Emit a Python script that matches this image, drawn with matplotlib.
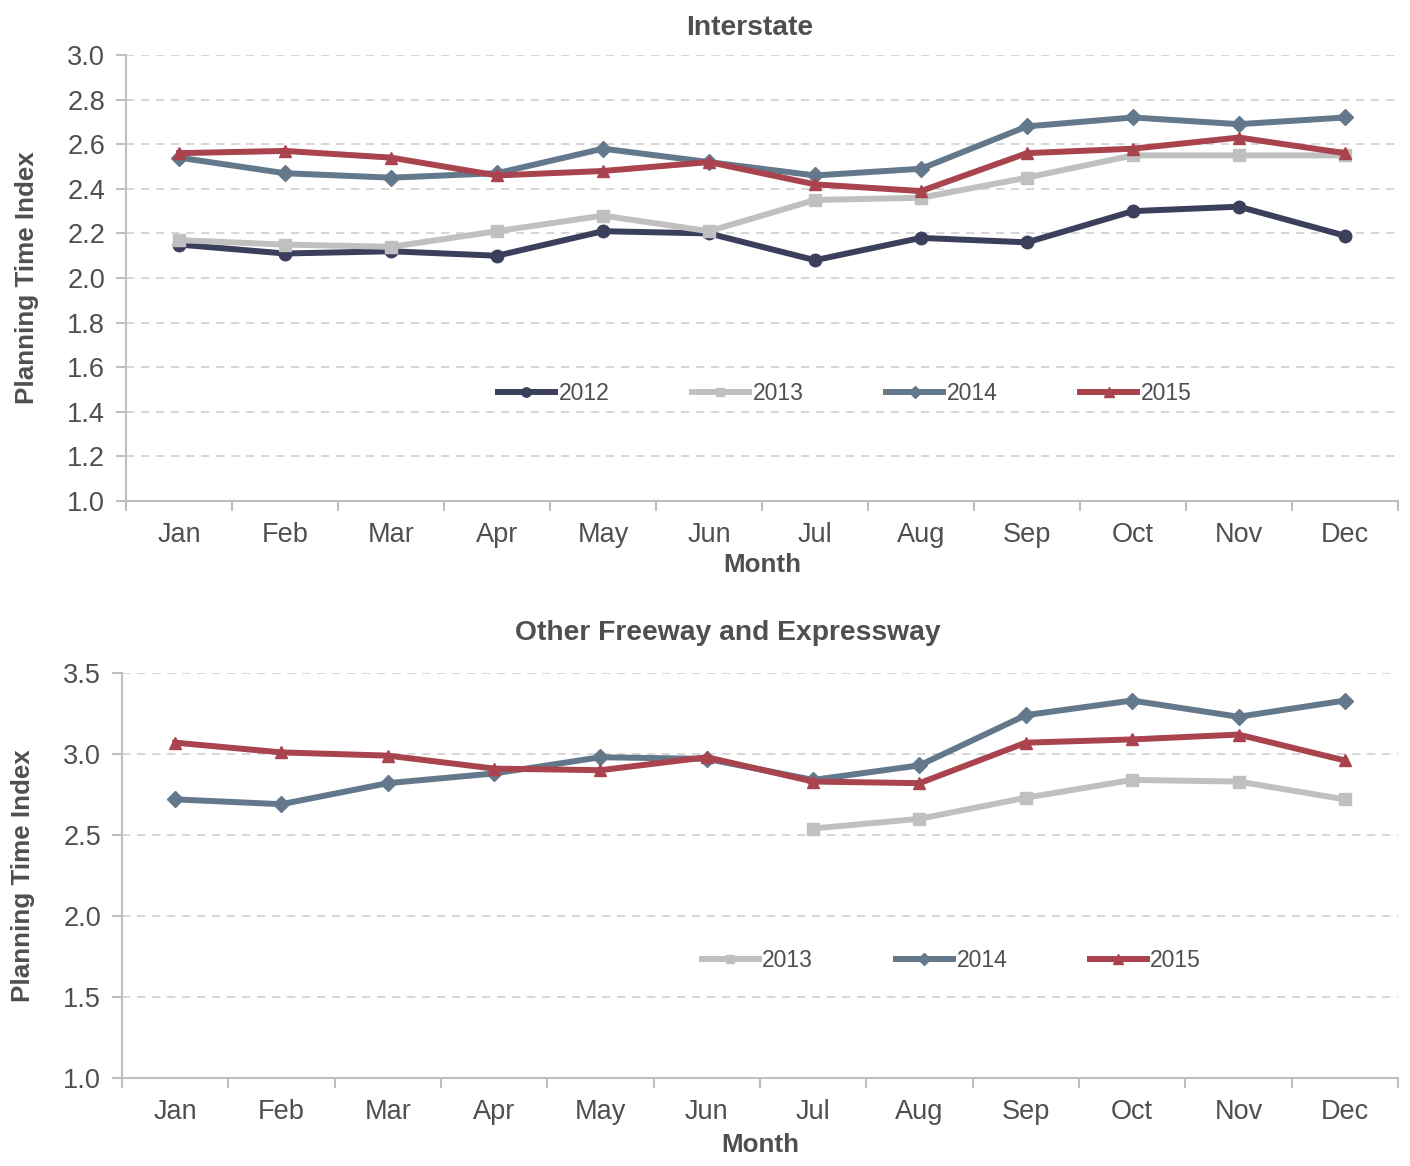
import numpy as np
import matplotlib.pyplot as plt

plt.rcParams['font.family'] = ['Liberation Sans', 'DejaVu Sans']

# Data

months = ['Jan', 'Feb', 'Mar', 'Apr', 'May', 'Jun',
          'Jul', 'Aug', 'Sep', 'Oct', 'Nov', 'Dec']

inter_2012 = [2.15, 2.11, 2.12, 2.10, 2.21, 2.20, 2.08, 2.18, 2.16, 2.30, 2.32, 2.19]
inter_2013 = [2.17, 2.15, 2.14, 2.21, 2.28, 2.21, 2.35, 2.36, 2.45, 2.55, 2.55, 2.55]
inter_2014 = [2.54, 2.47, 2.45, 2.47, 2.58, 2.52, 2.46, 2.49, 2.68, 2.72, 2.69, 2.72]
inter_2015 = [2.56, 2.57, 2.54, 2.46, 2.48, 2.52, 2.42, 2.39, 2.56, 2.58, 2.63, 2.56]

fwy_2013 = [np.nan] * 6 + [2.54, 2.60, 2.73, 2.84, 2.83, 2.72]
fwy_2014 = [2.72, 2.69, 2.82, 2.88, 2.98, 2.97, 2.84, 2.93, 3.24, 3.33, 3.23, 3.33]
fwy_2015 = [3.07, 3.01, 2.99, 2.91, 2.90, 2.98, 2.83, 2.82, 3.07, 3.09, 3.12, 2.96]

# Styles

text_col = '#4f4f4f'
axis_col = '#bfbfbf'
styles = {
    '2012': dict(color='#3c3f5b', marker='o', ms=9),
    '2013': dict(color='#c0c0c0', marker='s', ms=8),
    '2014': dict(color='#63788b', marker='D', ms=8),
    '2015': dict(color='#a9434d', marker='^', ms=9),
}

fig = plt.figure(figsize=(14.1, 11.66), dpi=100)
ax1 = fig.add_axes([0.0894, 0.5703, 0.902, 0.3825])
ax2 = fig.add_axes([0.0865, 0.0755, 0.905, 0.3473])

x = np.arange(len(months))


def style_axes(ax, ylim, yticks, title, title_x, title_pad, xlabel_pad, legend_anchor):
    ax.set_xlim(-0.5, 11.5)
    ax.set_ylim(*ylim)
    ax.set_yticks(yticks)
    ax.set_yticklabels([f'{t:.1f}' for t in yticks])
    ax.set_xticks(np.arange(-0.5, 12, 1))
    ax.set_xticklabels([])
    ax.set_xticks(x, minor=True)
    ax.set_xticklabels(months, minor=True)
    ax.tick_params(axis='x', which='major', length=7, color=axis_col, width=1.5)
    ax.tick_params(axis='x', which='minor', length=0, pad=15, labelsize=19.5, labelcolor=text_col)
    ax.tick_params(axis='y', length=7, color=axis_col, width=1.5, pad=8, labelsize=19.5, labelcolor=text_col)
    for s in ['top', 'right']:
        ax.spines[s].set_visible(False)
    for s in ['left', 'bottom']:
        ax.spines[s].set_color(axis_col)
        ax.spines[s].set_linewidth(1.5)
    ax.yaxis.grid(True, color='#d0d0d0', linestyle=(0, (5, 4)), linewidth=1.2)
    ax.set_axisbelow(True)
    ax.set_title(title, x=title_x, fontsize=20.3, fontweight='bold', color=text_col, pad=title_pad)
    ax.set_xlabel('Month', fontsize=18.7, fontweight='bold', color=text_col, labelpad=xlabel_pad)
    ax.set_ylabel('Planning Time Index', fontsize=18.7, fontweight='bold', color=text_col, labelpad=20)
    leg = ax.legend(loc='center', bbox_to_anchor=legend_anchor, ncol=4, frameon=False,
                    fontsize=16.5, handlelength=2.5, handletextpad=0.15, columnspacing=3.6,
                    markerscale=0.75)
    for t in leg.get_texts():
        t.set_color(text_col)


for name, vals in [('2012', inter_2012), ('2013', inter_2013),
                   ('2014', inter_2014), ('2015', inter_2015)]:
    ax1.plot(x, vals, lw=4.3, label=name, **styles[name])

style_axes(ax1, (1.0, 3.0), np.arange(1.0, 3.01, 0.2), 'Interstate',
           0.49, 14.5, 4, (0.565, 0.242))

for name, vals in [('2013', fwy_2013), ('2014', fwy_2014), ('2015', fwy_2015)]:
    ax2.plot(x, vals, lw=4.3, label=name, **styles[name])

style_axes(ax2, (1.0, 3.5), np.arange(1.0, 3.51, 0.5), 'Other Freeway and Expressway',
           0.475, 24, 6, (0.65, 0.291))

plt.savefig('out.png', dpi=100)
